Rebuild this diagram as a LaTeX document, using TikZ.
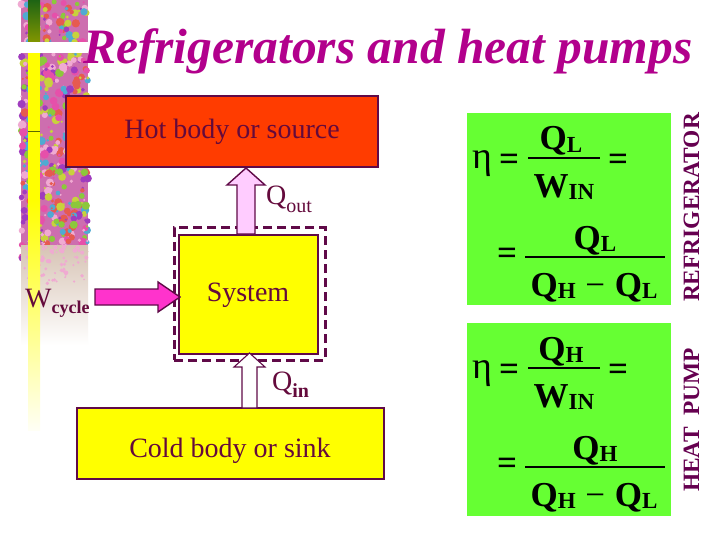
\documentclass[tikz,border=0pt]{standalone}
\usepackage{fontspec}
\setmainfont{Liberation Serif}
\usetikzlibrary{calc}
\definecolor{titlec}{RGB}{178,0,140}
\definecolor{edge}{RGB}{96,10,72}
\definecolor{txt}{RGB}{100,10,60}
\definecolor{hotc}{RGB}{255,60,0}
\definecolor{yel}{RGB}{255,255,0}
\definecolor{grn}{RGB}{102,255,51}
\definecolor{wpink}{RGB}{255,51,204}
\definecolor{qpink}{RGB}{255,204,255}
\definecolor{vlab}{RGB}{102,0,80}
\definecolor{texbase}{RGB}{205,110,175}
\definecolor{tex0}{RGB}{230,80,170}
\definecolor{tex1}{RGB}{160,60,190}
\definecolor{tex2}{RGB}{230,90,80}
\definecolor{tex3}{RGB}{140,200,60}
\definecolor{tex4}{RGB}{80,170,210}
\definecolor{tex5}{RGB}{200,210,60}
\definecolor{tex6}{RGB}{240,170,210}
\definecolor{texfade}{RGB}{215,195,180}
\definecolor{bargreen}{RGB}{30,100,20}
\definecolor{barolive}{RGB}{130,150,0}
\definecolor{barpale}{RGB}{255,255,245}
\newcommand\fsz[1]{\fontsize{#1}{#1}\selectfont}
\newcommand\eqsub[1]{\raisebox{-2.5pt}{\fsz{23}#1}}
\tikzset{
  boxnode/.style={draw=edge, line width=2pt, inner sep=0pt},
  lab/.style={font=\fsz{28}, text=txt, inner sep=0pt},
  eq/.style={font=\fsz{35}, text=black, inner sep=0pt},
  fracline/.style={line width=2pt, black},
  blockarrow/.style={draw=edge, line width=1.4pt, line join=miter},
  vtext/.style={rotate=90, font=\fsz{23.4}\bfseries, text=vlab, inner sep=0pt},
}
\begin{document}
\begin{tikzpicture}[x=1pt,y=-1pt]
\useasboundingbox (0,0) rectangle (720,540);
\fill[white] (0,0) rectangle (720,540);
% decorative strip
\fill[texbase] (21,0) rectangle (88,260);
\pgfmathsetseed{12}
\foreach \i in {1,...,520}{
  \pgfmathsetmacro\rx{21+67*rnd}
  \pgfmathsetmacro\ry{265*rnd}
  \pgfmathsetmacro\rr{1+3.5*rnd}
  \pgfmathtruncatemacro\rc{mod(int(7*rnd),7)}
  \fill[tex\rc] (\rx,\ry) circle[radius=\rr];
}
\shade[top color=texfade, bottom color=white] (21,245) rectangle (88,345);
\foreach \i in {1,...,70}{
  \pgfmathsetmacro\rx{21+67*rnd}
  \pgfmathsetmacro\ry{240+45*rnd}
  \pgfmathsetmacro\rr{0.8+1.5*rnd}
  \fill[tex6] (\rx,\ry) circle[radius=\rr];
}
\shade[top color=bargreen, bottom color=barolive] (28,0) rectangle (40,42);
\fill[yel] (28,53) rectangle (40,200);
\shade[top color=yel, bottom color=barpale] (28,200) rectangle (40,430);
\fill[white] (20,42) rectangle (88,53);
\draw[barolive!70!black, line width=0.8pt] (28,131) -- (40,131);
% title
\node[anchor=base west, inner sep=0pt, text=titlec, font=\fsz{49.5}\bfseries\itshape] (title) at (83,64) {Refrigerators and heat pumps};
% boxes
\node[boxnode, fill=hotc, minimum width=312, minimum height=71] (hot) at (222,131.5) {};
\node[lab, anchor=base] (hottxt) at (232,139) {Hot body or source};
\node[draw=edge, line width=3pt, dash pattern=on 9pt off 5pt, minimum width=151, minimum height=132, inner sep=0pt] (dash) at (249.5,294) {};
\node[boxnode, fill=yel, minimum width=139, minimum height=119] (sys) at (248.5,294) {};
\node[lab, anchor=base] (systxt) at (248,301) {System};
\node[boxnode, fill=yel, minimum width=307, minimum height=71] (cold) at (230.5,443.5) {};
\node[lab, anchor=base] (coldtxt) at (230,457) {Cold body or sink};
% block arrows
\draw[blockarrow, fill=qpink] (237,234) -- (237,185) -- (227,185) -- (246,168) -- (265,185) -- (255,185) -- (255,234) -- cycle;
\draw[blockarrow, fill=wpink] (95,289) -- (158,289) -- (158,282) -- (180,297) -- (158,312) -- (158,305) -- (95,305) -- cycle;
\draw[blockarrow, line width=1.1pt, fill=white] (242,408) -- (242,367) -- (234,367) -- (249.5,353) -- (265,367) -- (257,367) -- (257,408) -- cycle;
% arrow labels
\node[lab, anchor=base west] (qout) at (266,205) {Q\raisebox{-7pt}{\fsz{20}out}};
\node[lab, anchor=base west] (qin) at (272,390) {Q\raisebox{-7pt}{\fsz{20}\bfseries in}};
\node[lab, anchor=base west] (wcyc) at (25,307) {W\raisebox{-6pt}{\fsz{18}\bfseries cycle}};
% green boxes
\node[fill=grn, minimum width=204, minimum height=192, inner sep=0pt] (g1) at (569,209) {};
\node[fill=grn, minimum width=204, minimum height=193, inner sep=0pt] (g2) at (569,419.5) {};
% refrigerator equations
\node[eq, font=\fsz{38}] (eta1) at (482.5,164) {η};
\node[eq] (eqa1) at (509,162.5) {\bfseries =};
\draw[fracline] (528,158) -- (600,158);
\node[eq, anchor=base] (n1) at (561,150) {\bfseries Q\eqsub{L}};
\node[eq, anchor=base] (d1) at (564,197) {\bfseries W\eqsub{IN}};
\node[eq] (eqb1) at (618,162.5) {\bfseries =};
\node[eq] (eqc1) at (507,256) {\bfseries =};
\draw[fracline] (525,257) -- (665,257);
\node[eq, anchor=base] (n2) at (595,249) {\bfseries Q\eqsub{L}};
\node[eq, anchor=base] (d2) at (594,296) {\bfseries Q\eqsub{H}\;{\mdseries −}\;Q\eqsub{L}};
% heat pump equations
\node[eq, font=\fsz{38}] (eta2) at (482.5,374) {η};
\node[eq] (eqa2) at (509,372.5) {\bfseries =};
\draw[fracline] (528,368) -- (600,368);
\node[eq, anchor=base] (n3) at (561,360) {\bfseries Q\eqsub{H}};
\node[eq, anchor=base] (d3) at (564,407) {\bfseries W\eqsub{IN}};
\node[eq] (eqb2) at (618,372.5) {\bfseries =};
\node[eq] (eqc2) at (507,466) {\bfseries =};
\draw[fracline] (525,467) -- (665,467);
\node[eq, anchor=base] (n4) at (595,459) {\bfseries Q\eqsub{H}};
\node[eq, anchor=base] (d4) at (594,506) {\bfseries Q\eqsub{H}\;{\mdseries −}\;Q\eqsub{L}};
% vertical labels
\node[vtext] (refr) at (691.5,207.5) {REFRIGERATOR};
\node[vtext] (hp) at (691.5,420) {HEAT~ PUMP};
\end{tikzpicture}
\end{document}
